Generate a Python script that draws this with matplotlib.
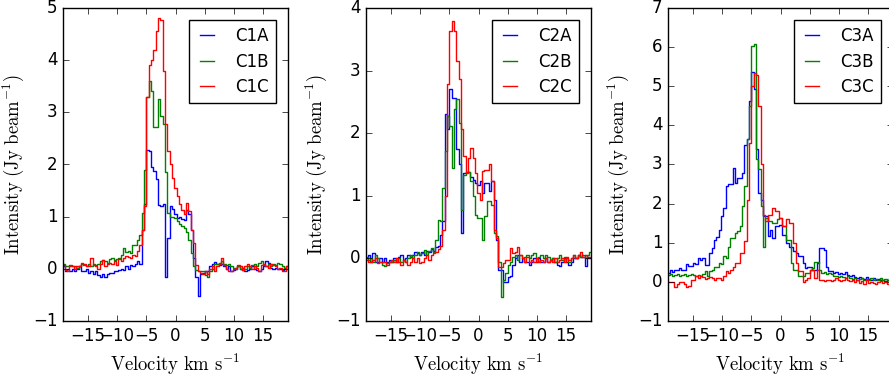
import numpy as np
import matplotlib
matplotlib.use('Agg')
from matplotlib import pyplot as plt

plt.style.use('classic')
plt.rcParams['mathtext.fontset'] = 'cm'
plt.rcParams['figure.facecolor'] = 'white'

# velocity channels (km/s), 0.4 km/s wide
vel = np.linspace(-19.2, 19.2, 97)

## source 1
c1a = [0.05, -0.05, 0.0, -0.05, 0.0, -0.05, 0.0, 0.05, -0.05, -0.05, 0.0, -0.08,
       -0.05, -0.1, -0.05, -0.12, -0.15, -0.1, -0.15, -0.1, -0.08, -0.08, -0.05, -0.05,
       -0.02, 0.0, -0.02, 0.05, 0.0, 0.08, 0.05, 0.1, 0.15, 0.1, 0.75, 1.25,
       2.27, 2.25, 1.95, 1.87, 1.72, 1.22, 1.2, 1.25, -0.15, 0.6, 1.2, 1.15,
       1.05, 0.98, 1.0, 0.95, 0.94, 1.12, 1.05, 0.75, 0.2, -0.15, -0.52, -0.1,
       -0.08, -0.05, -0.05, 0.05, 0.1, 0.14, 0.1, 0.08, 0.1, 0.05, 0.0, 0.05,
       -0.05, -0.02, 0.0, 0.05, 0.0, 0.02, -0.05, -0.02, 0.0, 0.05, 0.0, -0.02,
       -0.05, 0.0, 0.05, 0.15, 0.12, 0.02, 0.0, 0.02, 0.0, 0.0, -0.02, 0.02, 0.0]
c1b = [0.1, 0.05, 0.05, 0.08, 0.05, 0.05, 0.02, 0.05, 0.1, 0.08, 0.05, 0.1,
       0.05, 0.1, 0.08, 0.1, 0.15, 0.17, 0.15, 0.12, 0.18, 0.2, 0.17, 0.18,
       0.2, 0.27, 0.4, 0.33, 0.35, 0.3, 0.46, 0.45, 0.56, 0.65, 1.07, 1.9,
       3.3, 3.6, 3.41, 2.71, 2.71, 3.25, 2.93, 2.77, 1.85, 1.07, 1.0, 1.0,
       0.98, 0.92, 0.85, 0.82, 0.78, 0.7, 0.55, 0.3, 0.05, -0.02, -0.05, -0.05,
       -0.05, -0.12, -0.15, -0.05, 0.0, 0.1, 0.1, 0.12, 0.15, 0.1, 0.08, 0.1,
       0.05, 0.02, 0.0, 0.05, 0.0, -0.02, 0.0, 0.05, 0.02, 0.08, 0.1, 0.05,
       0.12, 0.15, 0.08, 0.05, 0.1, 0.05, 0.1, 0.08, 0.12, 0.1, 0.05, 0.0, 0.05]
c1c = [0.08, -0.02, -0.05, 0.05, 0.05, 0.0, 0.05, 0.05, 0.12, 0.1, 0.05, 0.05,
       0.2, 0.08, 0.05, 0.0, 0.1, 0.17, 0.05, 0.1, 0.12, 0.1, 0.15, 0.08,
       0.18, 0.15, 0.2, 0.25, 0.22, 0.2, 0.27, 0.25, 0.35, 0.45, 0.75, 1.2,
       3.3, 3.9, 4.0, 4.2, 4.55, 4.8, 4.77, 3.8, 2.77, 2.25, 2.0, 1.75,
       1.55, 1.4, 1.25, 1.12, 1.05, 1.27, 1.1, 0.75, 0.5, 0.08, -0.05, -0.08,
       -0.1, -0.05, -0.1, 0.0, 0.05, -0.05, 0.05, 0.1, 0.2, 0.08, 0.0, -0.05,
       -0.05, 0.0, 0.02, 0.08, 0.05, -0.02, 0.05, 0.1, 0.05, 0.0, 0.05, 0.02,
       -0.05, 0.08, 0.1, 0.05, 0.02, 0.1, 0.08, 0.05, 0.0, 0.02, -0.05, -0.05, 0.05]

## source 2
c2a = [0.0, 0.05, -0.05, 0.08, -0.05, -0.05, 0.0, -0.05, 0.0, -0.05, -0.02, -0.05,
       0.0, -0.05, 0.02, 0.05, -0.02, 0.0, 0.05, 0.03, 0.05, 0.1, 0.08, 0.05,
       0.1, 0.05, 0.12, 0.1, 0.15, 0.12, 0.18, 0.2, 0.38, 0.6, 2.3, 2.06,
       2.7, 2.57, 2.57, 1.74, 1.5, 0.4, 1.37, 1.38, 1.38, 1.3, 1.26, 1.2,
       1.18, 1.24, 1.05, 1.2, 1.2, 1.07, 1.24, 0.94, 0.3, -0.18, -0.18, -0.37,
       -0.37, -0.3, -0.28, -0.1, 0.0, 0.05, -0.05, 0.0, -0.05, -0.05, -0.1, -0.05,
       0.0, -0.05, 0.0, -0.05, -0.05, 0.0, -0.05, -0.02, 0.0, -0.05, -0.1, -0.12,
       -0.05, 0.0, -0.05, -0.1, -0.05, 0.0, 0.0, 0.05, 0.02, 0.02, -0.12, 0.02, 0.0]
c2b = [0.02, -0.03, 0.0, -0.05, 0.05, 0.0, -0.05, -0.1, -0.12, -0.08, -0.05, -0.05,
       -0.02, -0.05, 0.0, -0.05, -0.02, -0.05, 0.0, 0.05, 0.0, 0.05, 0.1, 0.05,
       0.08, 0.14, 0.05, 0.12, 0.17, 0.1, 0.3, 0.62, 0.6, 1.13, 1.72, 2.28,
       2.12, 1.45, 2.39, 2.55, 2.17, 0.78, 1.34, 1.38, 1.38, 1.24, 0.99, 0.7,
       0.65, 0.65, 0.3, 0.67, 0.91, 0.91, 0.86, 0.4, 0.35, -0.05, -0.61, -0.34,
       -0.24, -0.1, -0.05, 0.03, 0.05, -0.02, 0.05, 0.0, 0.02, 0.05, 0.0, 0.05,
       0.08, 0.0, 0.02, 0.05, 0.0, 0.05, 0.02, -0.02, 0.0, -0.05, 0.0, 0.05,
       -0.02, 0.02, 0.0, -0.05, 0.0, 0.05, 0.0, 0.05, 0.02, 0.05, 0.0, 0.05, 0.1]
c2c = [-0.02, -0.05, -0.05, -0.02, 0.0, -0.08, -0.05, -0.05, -0.05, -0.1, -0.05, -0.02,
       -0.05, 0.0, -0.05, -0.1, -0.03, -0.05, -0.1, -0.05, 0.0, -0.05, 0.0, -0.08,
       -0.05, 0.0, 0.05, -0.02, 0.05, 0.08, 0.1, 0.15, 0.2, 0.45, 1.0, 2.79,
       3.64, 3.8, 3.64, 3.16, 2.87, 2.06, 1.64, 1.37, 1.6, 1.77, 1.61, 1.37,
       1.05, 0.94, 1.4, 1.42, 1.42, 1.5, 1.24, 0.46, 0.33, -0.13, -0.13, -0.07,
       -0.02, -0.02, 0.17, 0.09, 0.1, 0.19, 0.05, 0.0, -0.05, 0.02, -0.05, -0.02,
       -0.05, 0.0, -0.05, -0.02, -0.05, 0.0, -0.05, -0.02, -0.05, 0.0, -0.05, -0.02,
       0.0, -0.05, 0.02, -0.02, 0.0, 0.05, 0.0, 0.05, 0.1, 0.02, 0.05, 0.0, 0.02]

## source 3
c3a = [0.22, 0.3, 0.25, 0.3, 0.3, 0.35, 0.3, 0.3, 0.45, 0.4, 0.4, 0.48,
       0.45, 0.6, 0.55, 0.6, 0.44, 0.44, 0.75, 0.86, 1.08, 1.15, 1.33, 1.68,
       1.9, 2.45, 2.5, 2.5, 2.92, 2.53, 2.66, 2.66, 2.79, 3.5, 3.64, 4.63,
       5.37, 4.93, 3.4, 2.28, 2.1, 1.68, 1.68, 1.16, 1.33, 1.12, 1.42, 1.42,
       1.46, 1.2, 1.2, 0.99, 0.9, 0.9, 0.78, 0.74, 0.65, 0.65, 0.48, 0.35,
       0.37, 0.39, 0.31, 0.31, 0.48, 0.86, 0.86, 0.82, 0.39, 0.29, 0.29, 0.22,
       0.25, 0.2, 0.22, 0.2, 0.25, 0.18, 0.15, 0.18, 0.12, 0.1, 0.12, 0.1,
       0.08, 0.12, 0.08, 0.05, 0.1, 0.05, 0.08, 0.05, 0.05, 0.02, 0.05, 0.0, 0.03]
c3b = [0.18, 0.2, 0.15, 0.18, 0.2, 0.15, 0.18, 0.2, 0.15, 0.18, 0.2, 0.18,
       0.15, 0.18, 0.15, 0.2, 0.27, 0.15, 0.27, 0.3, 0.39, 0.39, 0.48, 0.45,
       0.65, 0.6, 0.9, 1.12, 1.12, 1.25, 1.3, 1.42, 1.93, 2.45, 3.64, 4.5,
       6.04, 6.07, 3.13, 2.88, 1.95, 0.9, 1.63, 1.55, 1.55, 1.5, 1.5, 1.6,
       1.63, 1.42, 1.42, 1.08, 1.08, 0.48, 0.31, 0.31, 0.14, 0.14, 0.14, 0.22,
       0.22, 0.3, 0.35, 0.52, 0.52, 0.31, 0.22, 0.25, 0.2, 0.22, 0.2, 0.14,
       0.15, 0.12, 0.15, 0.12, 0.1, 0.14, 0.1, 0.08, 0.1, 0.05, 0.08, 0.1,
       0.05, 0.08, 0.05, 0.1, 0.05, 0.08, 0.05, 0.1, 0.05, 0.08, 0.05, 0.1, 0.05]
c3c = [0.0, 0.0, 0.0, -0.12, -0.05, 0.0, 0.0, -0.05, -0.12, -0.1, 0.05, 0.05,
       0.14, 0.1, 0.14, 0.12, 0.08, 0.1, 0.12, 0.1, 0.05, 0.1, 0.1, 0.05,
       0.15, 0.27, 0.22, 0.3, 0.39, 0.48, 0.48, 0.74, 0.74, 1.04, 2.1, 3.56,
       5.01, 5.34, 5.3, 4.5, 3.0, 1.72, 1.55, 1.72, 1.72, 1.89, 1.8, 1.8,
       1.63, 1.42, 1.42, 1.6, 1.5, 1.5, 0.99, 0.48, 0.27, 0.27, 0.0, 0.05,
       0.09, 0.31, 0.31, 0.09, 0.31, 0.05, 0.05, 0.02, 0.05, 0.05, 0.02, 0.05,
       0.1, 0.05, 0.02, 0.05, 0.1, 0.05, 0.02, 0.05, 0.0, 0.05, -0.03, 0.02,
       -0.05, 0.05, -0.03, 0.0, -0.03, -0.05, 0.0, 0.02, -0.03, 0.0, -0.05, 0.02, 0.0]

panels = [(['C1A', 'C1B', 'C1C'], [c1a, c1b, c1c], (-1, 5)),
          (['C2A', 'C2B', 'C2C'], [c2a, c2b, c2c], (-1, 4)),
          (['C3A', 'C3B', 'C3C'], [c3a, c3b, c3c], (-1, 7))]
cols = ['b', 'g', 'r']

fig = plt.figure(figsize=(8.89, 3.76), dpi=100)
lefts = [63, 366, 668]   # axes left edges in pixels

for n in range(3):
    names, series, ylim = panels[n]
    ax = fig.add_axes([lefts[n] / 889., 55 / 376., 225 / 889., 313 / 376.])
    for name, y, c in zip(names, series, cols):
        assert len(y) == len(vel), name
        ax.step(vel, y, where='mid', color=c, lw=1.0, label=name)
    ax.set_xlim(-19.3, 19.3)
    ax.set_ylim(ylim)
    ax.set_xticks([-15, -10, -5, 0, 5, 10, 15])
    ax.set_yticks(range(ylim[0], ylim[1] + 1))
    ax.set_xlabel(r'$\mathrm{Velocity\ km\ s^{-1}}$', fontsize=13.5)
    ax.set_ylabel(r'$\mathrm{Intensity\ (Jy\ beam^{-1})}$', fontsize=13.5)
    ax.legend(loc='upper right', fontsize=12, handlelength=1.4,
              handletextpad=1.0, borderaxespad=0.75, labelspacing=0.45)

fig.savefig('out.png', dpi=100)
